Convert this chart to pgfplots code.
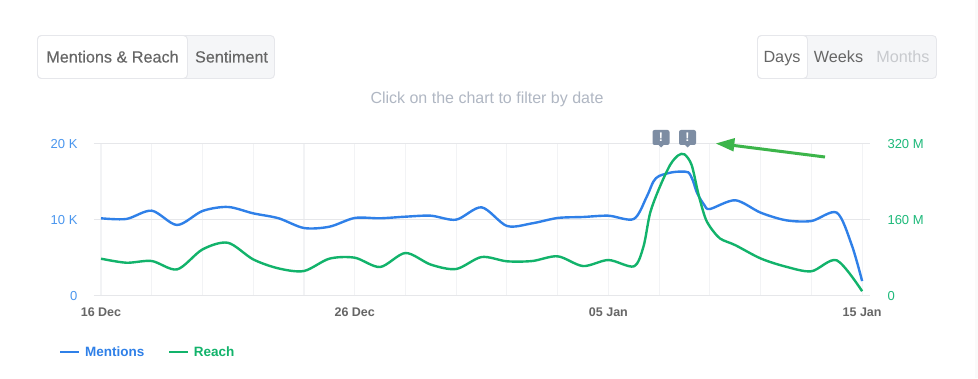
\documentclass[border=0pt]{standalone}
\usepackage{pgfplots}
\pgfplotsset{compat=1.18}
\usepackage{fontspec}
\setmainfont{Liberation Sans}
\newfontfamily\medfont[FakeBold=0.25]{Liberation Sans}
\definecolor{mblue}{HTML}{2F80E8}
\definecolor{rgreen}{HTML}{12B36B}
\definecolor{lblue}{HTML}{4A96EE}
\definecolor{lgreen}{HTML}{1DB97A}
\definecolor{btxt}{HTML}{666666}
\definecolor{bdis}{HTML}{C8CACE}
\definecolor{bfill}{HTML}{F5F6F8}
\definecolor{bline}{HTML}{E6E7EB}
\definecolor{hint}{HTML}{B0B7C3}
\definecolor{hgrid}{HTML}{E6E7EA}
\definecolor{vgrid}{HTML}{F2F3F5}
\definecolor{flag}{HTML}{7D8DA3}
\definecolor{arrowg}{HTML}{3CB54A}
\begin{document}
\begin{tikzpicture}
\path[use as bounding box,fill=white] (0,0) rectangle (978pt,378pt);
\fill[black!2] (975pt,0) rectangle (978pt,378pt);
\begin{axis}[
  name=main, at={(94pt,82.5pt)}, anchor=south west, scale only axis,
  width=776pt, height=152pt,
  xmin=-0.276, xmax=30.31, ymin=0, ymax=20000,
  axis line style={draw=none}, clip=false, scaled y ticks=false,
  xtick={0,2,...,30},
  xticklabels={16 Dec,,,,,26 Dec,,,,,05 Jan,,,,,15 Jan},
  ytick={0,10000,20000}, yticklabels={0,10 K,20 K},
  major tick length=0pt,
  xmajorgrids, ymajorgrids,
  x grid style={vgrid,line width=1.1pt},
  y grid style={hgrid,line width=1.5pt},
  xticklabel style={font=\fontsize{12.5}{14}\selectfont\bfseries,text=btxt,yshift=-9pt},
  yticklabel style={font=\fontsize{13}{14}\selectfont,text=lblue,anchor=east,xshift=-13pt,yshift=-1pt},
  legend style={at={(-0.045,-0.372)},anchor=west,draw=none,fill=none,inner sep=0pt,
    legend columns=2,/tikz/every even column/.append style={column sep=23.5pt},
    font=\fontsize{13.5}{15}\selectfont\bfseries,
    nodes={inner xsep=0pt,inner ysep=0pt}},
  legend image code/.code={\draw[#1,line width=2.4pt,sharp plot] (0pt,0pt) -- (19pt,0pt);},
]
\addplot[mblue,line width=2.4pt,smooth,tension=0.5] coordinates {
(0,10160)(1,10070)(2,11160)(3,9280)(4,11120)(5,11650)(6,10810)(7,10160)(8,8880)(9,9050)
(10,10200)(11,10160)(12,10370)(13,10500)(14,9980)(15,11600)(16,9150)(17,9500)(18,10200)(19,10330)
(20,10500)(21,10070)(21.51,13000)(21.77,14980)(22,15730)(22.51,16210)(22.85,16300)(23.15,16200)(23.32,15200)(23.5,13450)(23.78,11910)(24,11380)
(25,12530)(26,10900)(27,9900)(28,9800)(29,10900)(29.59,6650)(30,1900)};
\addlegendentry{\hspace*{4.5pt}\textcolor{mblue}{Mentions}}
\addlegendimage{rgreen}
\addlegendentry{\hspace*{4.5pt}\textcolor{rgreen}{Reach}}
\end{axis}
\begin{axis}[
  at={(94pt,82.5pt)}, anchor=south west, scale only axis,
  width=776pt, height=152pt,
  xmin=-0.276, xmax=30.31, ymin=0, ymax=320,
  axis x line=none, axis y line=right, axis line style={draw=none},
  ytick={0,160,320}, yticklabels={0,160 M,320 M},
  major tick length=0pt, clip=false,
  yticklabel style={font=\fontsize{13}{14}\selectfont,text=lgreen,anchor=west,xshift=14pt,yshift=-1pt},
]
\addplot[rgreen,line width=2.4pt,smooth,tension=0.5] coordinates {
(0,77.5)(1,69)(2,72.6)(3,55)(4,97)(5,111)(6,76)(7,57)(8,51.6)(9,77.5)
(10,79.6)(11,60)(12,89.5)(13,65)(14,55.8)(15,81)(16,72)(17,72.6)(18,82.5)(19,62)
(20,74.7)(21,61.4)(21.38,102.7)(21.64,173)(22,225.6)(22.43,274.7)(22.75,295)(23,297)(23.28,274.7)(23.54,215)(23.8,166)(24,145)(24.4,120)
(25,106)(26,78)(27,60.6)(28,51)(29,74)(30,9)};
\end{axis}
\begin{scope}[x=1pt,y=-1pt,yshift=378pt]
% buttons
\draw[bline,fill=bfill,line width=0.9pt,rounded corners=4pt] (37.5,35.5) rectangle (274.5,78.5);
\draw[bline,fill=white,line width=0.9pt,rounded corners=4pt] (37.5,35.5) rectangle (187.5,78.5);
\node[text=btxt,anchor=base,font=\fontsize{16.2}{18}\selectfont\medfont] at (112.5,62.5) {Mentions \& Reach};
\node[text=btxt,anchor=base,font=\fontsize{16.2}{18}\selectfont\medfont] at (231.5,62.5) {Sentiment};
\draw[bline,fill=bfill,line width=0.9pt,rounded corners=4pt] (757.5,35.5) rectangle (936.5,78.5);
\draw[bline,fill=white,line width=0.9pt,rounded corners=4pt] (757.5,35.5) rectangle (807.5,78.5);
\node[text=btxt,anchor=base,font=\fontsize{16.2}{18}\selectfont] at (782,62.5) {Days};
\node[text=btxt,anchor=base,font=\fontsize{16.2}{18}\selectfont] at (838.5,62.5) {Weeks};
\node[text=bdis,anchor=base,font=\fontsize{16.2}{18}\selectfont] at (903,62.5) {Months};
\node[text=hint,anchor=center,font=\fontsize{16}{18}\selectfont] at (487,99) {Click on the chart to filter by date};
% flags
\foreach \cx in {661,687.5}{
  \fill[flag,rounded corners=2pt] (\cx-8.5,130) rectangle (\cx+8.5,145);
  \fill[flag] (\cx-3,144.5) -- (\cx+3,144.5) -- (\cx,147.5) -- cycle;
  \node[text=white,font=\fontsize{12.5}{13}\selectfont\bfseries,inner sep=0pt] at (\cx,137.5) {!};
}
% arrow
\draw[arrowg,line width=3pt] (825,157) -- (730,145);
\fill[arrowg] (716,143.5) -- (735,138) -- (733.5,151.5) -- cycle;
\end{scope}
\end{tikzpicture}
\end{document}
